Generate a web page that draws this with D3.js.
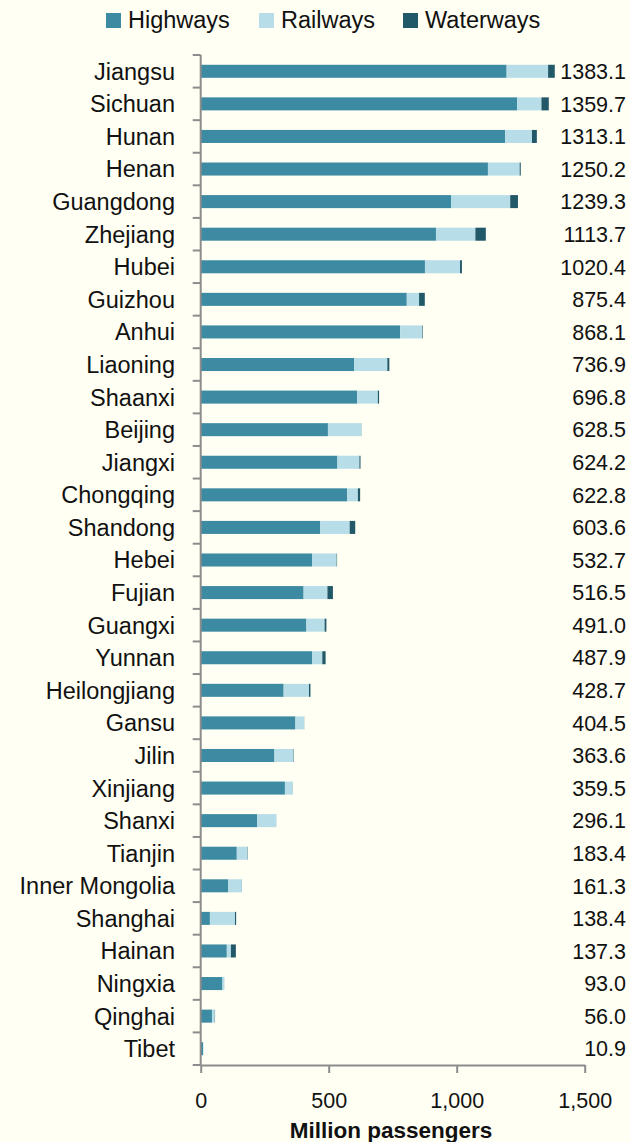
<!DOCTYPE html>
<html>
<head>
<meta charset="utf-8">
<script src="https://cdn.jsdelivr.net/npm/d3@7/dist/d3.min.js"></script>
<style>
  html, body { margin: 0; padding: 0; background: #fffff3; }
  svg { display: block; font-family: "Liberation Sans", Arial, sans-serif; }
</style>
</head>
<body>
<svg id="chart" width="630" height="1142"></svg>
<script>
// passengers by province, million
var provinces = ["Jiangsu","Sichuan","Hunan","Henan","Guangdong","Zhejiang","Hubei","Guizhou","Anhui","Liaoning","Shaanxi","Beijing","Jiangxi","Chongqing","Shandong","Hebei","Fujian","Guangxi","Yunnan","Heilongjiang","Gansu","Jilin","Xinjiang","Shanxi","Tianjin","Inner Mongolia","Shanghai","Hainan","Ningxia","Qinghai","Tibet"];
var highways = [1195,1236,1189,1122,978,919,876,805,779,599,611,497,534,572,467,435,402,413,435,324,370,288,329,220,141,108,36,102,85,44,9];
var railways = [162,95,105,124,231,154,137,48,87,130,81,131,86,42,115,96,93,71,40,99,34,74,30,76,41,53,98,16,8,11,1.9];
var waterways = [26.1,28.7,19.1,4.2,30.3,40.7,7.4,22.4,2.1,7.9,4.8,0.5,4.2,8.8,21.6,1.7,21.5,7.0,12.9,5.7,0.5,1.6,0.5,0.1,1.4,0.3,4.4,19.3,0,1.0,0];
var totals = ["1383.1","1359.7","1313.1","1250.2","1239.3","1113.7","1020.4","875.4","868.1","736.9","696.8","628.5","624.2","622.8","603.6","532.7","516.5","491.0","487.9","428.7","404.5","363.6","359.5","296.1","183.4","161.3","138.4","137.3","93.0","56.0","10.9"];
var seriesNames = ["Highways","Railways","Waterways"];
var colors = ["#3d8ba3","#b7dde8","#215968"];
var xTicks = [0,500,1000,1500];

var svg = d3.select("#chart");

var x = d3.scaleLinear().domain([0,1500]).range([200.7,584.7]);
var y = d3.scaleBand().domain(provinces).range([55,1065]).paddingInner(0.6).paddingOuter(0.3);

var rows = provinces.map(function(p,i){
  return {name:p, Highways:highways[i], Railways:railways[i], Waterways:waterways[i]};
});
var stack = d3.stack().keys(seriesNames)(rows);

// bars
svg.append("g")
  .attr("class","bars")
  .selectAll("g")
  .data(stack)
  .enter()
  .append("g")
  .attr("fill",function(d,i){ return colors[i]; })
  .selectAll("rect")
  .data(function(d){ return d; })
  .enter()
  .append("rect")
  .attr("x",function(d){ return x(d[0]); })
  .attr("width",function(d){ return Math.max(0, x(d[1]) - x(d[0])); })
  .attr("y",function(d){ return y(d.data.name); })
  .attr("height",y.bandwidth());

// y axis: line + ticks at band edges
var yg = svg.append("g").attr("class","yaxis");
var edges = d3.range(provinces.length + 1).map(function(i){
  return 55 + i * y.step();
});
yg.append("line")
  .attr("x1",x(0)).attr("x2",x(0))
  .attr("y1",55).attr("y2",1065)
  .attr("stroke","#8c8c8c").attr("stroke-width",2);
yg.selectAll("line.tk")
  .data(edges)
  .enter()
  .append("line")
  .attr("class","tk")
  .attr("x1",x(0) - 8).attr("x2",x(0))
  .attr("y1",function(d){ return d; }).attr("y2",function(d){ return d; })
  .attr("stroke","#8c8c8c").attr("stroke-width",2);

// category labels
svg.append("g")
  .selectAll("text")
  .data(provinces)
  .enter()
  .append("text")
  .attr("x",175)
  .attr("y",function(d){ return y(d) + y.bandwidth()/2; })
  .attr("dy","0.36em")
  .attr("text-anchor","end")
  .attr("font-size",23.5)
  .attr("fill","#111")
  .text(function(d){ return d; });

// total labels
svg.append("g")
  .selectAll("text")
  .data(totals)
  .enter()
  .append("text")
  .attr("x",626)
  .attr("y",function(d,i){ return y(provinces[i]) + y.bandwidth()/2; })
  .attr("dy","0.36em")
  .attr("text-anchor","end")
  .attr("font-size",21.5)
  .attr("fill","#111")
  .text(function(d){ return d; });

// x axis
var xAxis = d3.axisBottom(x)
  .tickValues(xTicks)
  .tickSize(8)
  .tickSizeOuter(0)
  .tickPadding(20)
  .tickFormat(d3.format(","));
var xg = svg.append("g")
  .attr("transform","translate(0,1065)")
  .call(xAxis);
xg.select(".domain").attr("stroke","#8c8c8c").attr("stroke-width",2);
xg.selectAll(".tick line").attr("stroke","#8c8c8c").attr("stroke-width",2);
xg.selectAll(".tick text")
  .attr("font-size",21.5)
  .attr("font-family","Liberation Sans, Arial, sans-serif")
  .attr("fill","#111");

svg.append("text")
  .attr("x",391)
  .attr("y",1138)
  .attr("text-anchor","middle")
  .attr("font-size",22.5)
  .attr("font-weight","bold")
  .attr("fill","#111")
  .text("Million passengers");

// legend
var legendX = [106,259,403];
var lg = svg.append("g")
  .selectAll("g")
  .data(seriesNames)
  .enter()
  .append("g")
  .attr("transform",function(d,i){ return "translate(" + legendX[i] + ",13)"; });
lg.append("rect")
  .attr("width",15).attr("height",15)
  .attr("fill",function(d,i){ return colors[i]; });
lg.append("text")
  .attr("x",22)
  .attr("y",15)
  .attr("font-size",23.5)
  .attr("fill","#111")
  .text(function(d){ return d; });
</script>
</body>
</html>
